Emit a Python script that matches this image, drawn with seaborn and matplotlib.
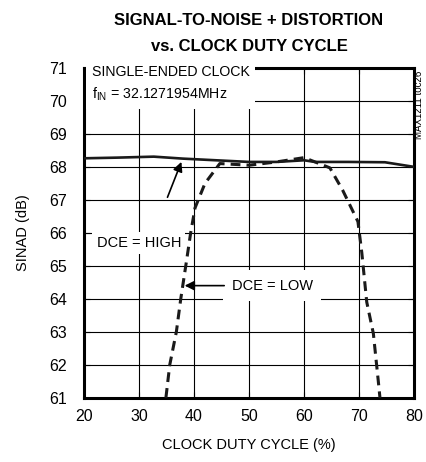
import seaborn as sns
import pandas as pd
from matplotlib import pyplot as plt

# DCE = HIGH (solid)
high_x = [20, 26, 32.7, 38, 44, 50, 55, 60, 62, 68, 74.7, 80]
high_y = [68.26, 68.28, 68.31, 68.25, 68.2, 68.15, 68.15, 68.2, 68.15, 68.15, 68.14, 68.0]
# DCE = LOW (dashed)
low_x = [34.9, 35.6, 36.8, 37.6, 38.6, 39.4, 40.2, 42.0, 44.7, 50, 55, 60, 62, 64.7, 67.0, 69.8, 70.5, 71.4, 72.6, 73.5, 73.8]
low_y = [61.0, 62.0, 63.0, 64.0, 65.1, 66.0, 66.76, 67.5, 68.1, 68.05, 68.15, 68.28, 68.15, 67.97, 67.3, 66.34, 65.4, 63.9, 62.95, 61.5, 61.0]

high = pd.DataFrame({'duty': high_x, 'sinad': high_y})
low = pd.DataFrame({'duty': low_x, 'sinad': low_y})

sns.set_style('white')
plt.rcParams['font.family'] = ['Liberation Sans', 'DejaVu Sans']
plt.rcParams['text.color'] = 'black'
plt.rcParams['axes.labelcolor'] = 'black'
plt.rcParams['xtick.color'] = 'black'
plt.rcParams['ytick.color'] = 'black'
plt.rcParams['mathtext.fontset'] = 'custom'
plt.rcParams['mathtext.rm'] = 'Liberation Sans'

fig = plt.figure(figsize=(4.26, 4.62), dpi=100)
ax = fig.add_axes([0.197, 0.139, 0.775, 0.714])

sns.lineplot(x='duty', y='sinad', data=high, color='#1a1a1a', linewidth=1.9, ax=ax, sort=False, zorder=3)
sns.lineplot(x='duty', y='sinad', data=low, color='#1a1a1a', linewidth=2.2, ax=ax, sort=False, zorder=3,
             linestyle=(0, (3.2, 2.0)))

ax.set_xlim(20, 80)
ax.set_ylim(61, 71)
ax.set_xticks(range(20, 81, 10))
ax.set_yticks(range(61, 72))
ax.grid(True, color='black', linewidth=0.8)
for s in ax.spines.values():
    s.set_linewidth(2.2)
    s.set_color('black')
ax.tick_params(direction='in', length=4, width=0.8, labelsize=11.5, top=True, right=True, left=True, bottom=True)
ax.tick_params(axis='y', pad=12)
ax.tick_params(axis='x', pad=8)
ax.set_xlabel('CLOCK DUTY CYCLE (%)', fontsize=10.5, labelpad=10)
ax.set_ylabel('SINAD (dB)', fontsize=10.5, labelpad=14)
ax.set_title('SIGNAL-TO-NOISE + DISTORTION\nvs. CLOCK DUTY CYCLE', fontsize=12,
             fontweight='bold', pad=12.5, linespacing=1.85)

ax.text(21.4, 70.5, 'SINGLE-ENDED CLOCK\n$\\mathregular{f_{IN}}$ = 32.1271954MHz', fontsize=10.2,
        va='center', ha='left', linespacing=1.5,
        bbox=dict(facecolor='white', edgecolor='none', pad=4), zorder=4)
ax.text(30, 65.7, 'DCE = HIGH', fontsize=10.5, ha='center', va='center',
        bbox=dict(facecolor='white', edgecolor='none', pad=3), zorder=4)
ax.text(54.2, 64.4, 'DCE = LOW', fontsize=10.5, ha='center', va='center',
        bbox=dict(facecolor='white', edgecolor='none', pad=6), zorder=4)
ax.annotate('', xy=(37.9, 68.23), xytext=(35.0, 67.0),
            arrowprops=dict(arrowstyle='-|>', color='black', lw=1.2, mutation_scale=14), zorder=5)
ax.annotate('', xy=(37.8, 64.4), xytext=(46.0, 64.4),
            arrowprops=dict(arrowstyle='-|>', color='black', lw=1.2, mutation_scale=14), zorder=5)

fig.text(0.984, 0.773, 'MAX1211 toc26', rotation=90, fontsize=7, ha='center', va='center')

fig.savefig('out.png', dpi=100)
